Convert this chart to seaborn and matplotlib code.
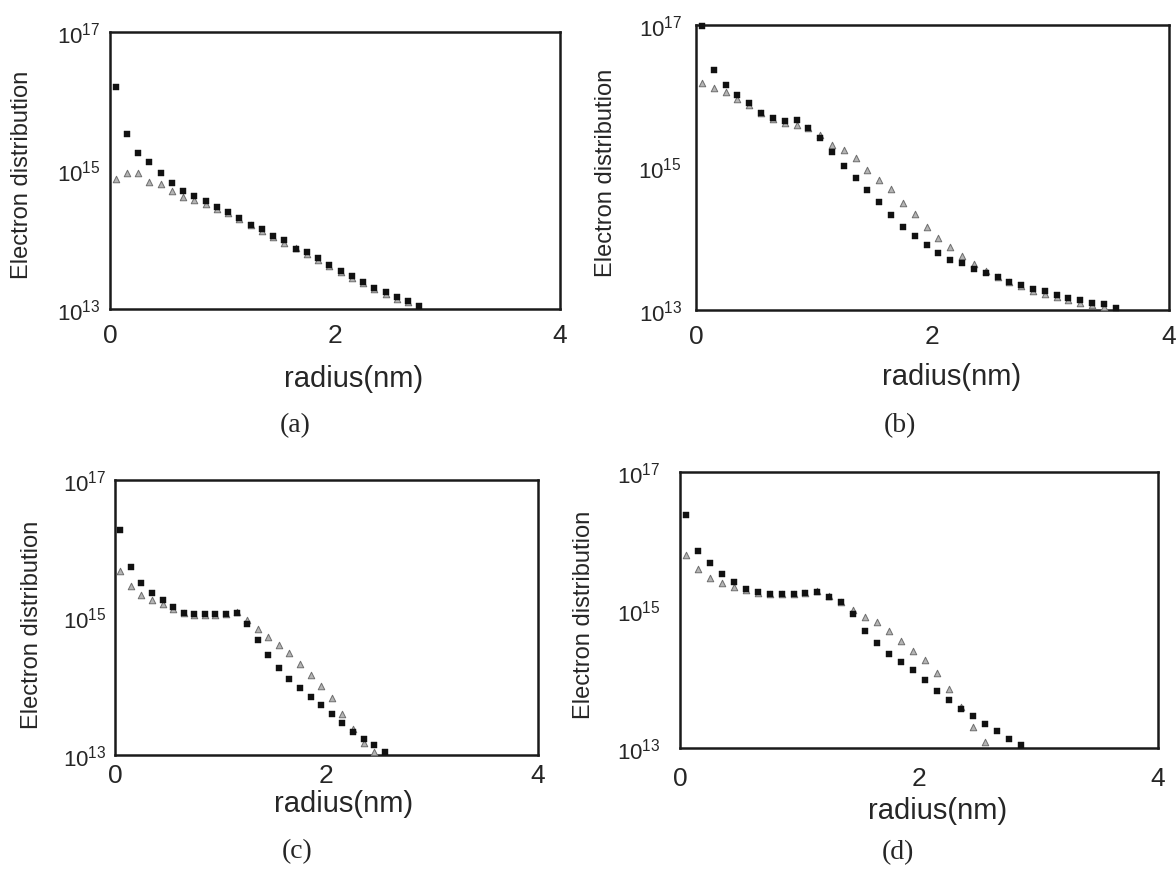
import numpy as np
import pandas as pd
import matplotlib
matplotlib.use('Agg')
import matplotlib.pyplot as plt
import matplotlib.ticker as mticker
import seaborn as sns

sns.set_style('white')
plt.rcParams['font.family'] = ['Liberation Sans', 'DejaVu Sans']
plt.rcParams['mathtext.default'] = 'regular'

# radius grid (nm) shared by all panels, series use the first n values
radius = [0.05, 0.15, 0.25, 0.35, 0.45, 0.55, 0.65, 0.75, 0.85, 0.95,
          1.05, 1.15, 1.25, 1.35, 1.45, 1.55, 1.65, 1.75, 1.85, 1.95,
          2.05, 2.15, 2.25, 2.35, 2.45, 2.55, 2.65, 2.75, 2.85, 2.95,
          3.05, 3.15, 3.25, 3.35, 3.45, 3.55]

# log10 of electron distribution
a_sq = [16.21, 15.53, 15.25, 15.12, 14.96, 14.82, 14.70, 14.63, 14.56, 14.47,
        14.40, 14.32, 14.22, 14.16, 14.06, 14.00, 13.87, 13.82, 13.73, 13.64,
        13.55, 13.47, 13.39, 13.30, 13.25, 13.17, 13.11, 13.05]
a_tri = [14.88, 14.96, 14.96, 14.84, 14.80, 14.70, 14.62, 14.58, 14.52, 14.45,
         14.38, 14.30, 14.21, 14.13, 14.04, 13.96, 13.88, 13.80, 13.71, 13.62,
         13.53, 13.45, 13.37, 13.29, 13.22, 13.15, 13.10]

b_sq = [16.98, 16.37, 16.16, 16.02, 15.91, 15.77, 15.69, 15.65, 15.66, 15.56,
        15.42, 15.22, 15.02, 14.85, 14.68, 14.52, 14.33, 14.16, 14.04, 13.91,
        13.80, 13.70, 13.66, 13.58, 13.52, 13.47, 13.40, 13.35, 13.30, 13.27,
        13.21, 13.17, 13.14, 13.10, 13.08, 13.03]
b_tri = [16.18, 16.11, 16.06, 15.96, 15.88, 15.76, 15.68, 15.62, 15.59, 15.55,
         15.45, 15.32, 15.25, 15.13, 14.97, 14.82, 14.70, 14.50, 14.35, 14.16,
         14.01, 13.88, 13.76, 13.64, 13.55, 13.47, 13.39, 13.33, 13.27, 13.22,
         13.18, 13.14, 13.10, 13.07, 13.04]

c_sq = [16.28, 15.73, 15.50, 15.36, 15.25, 15.15, 15.07, 15.05, 15.05, 15.05,
        15.05, 15.06, 14.91, 14.67, 14.45, 14.27, 14.11, 13.97, 13.85, 13.73,
        13.60, 13.46, 13.34, 13.24, 13.14, 13.04]
c_tri = [15.68, 15.46, 15.33, 15.25, 15.20, 15.12, 15.06, 15.04, 15.04, 15.04,
         15.05, 15.08, 14.97, 14.83, 14.71, 14.60, 14.49, 14.32, 14.17, 14.01,
         13.83, 13.60, 13.38, 13.18, 13.05]

d_sq = [16.37, 15.86, 15.68, 15.52, 15.40, 15.31, 15.26, 15.23, 15.23, 15.23,
        15.25, 15.26, 15.19, 15.11, 14.94, 14.70, 14.52, 14.36, 14.25, 14.13,
        13.99, 13.83, 13.70, 13.57, 13.47, 13.35, 13.24, 13.13, 13.04]
d_tri = [15.80, 15.60, 15.47, 15.39, 15.34, 15.29, 15.25, 15.23, 15.23, 15.23,
         15.25, 15.27, 15.20, 15.12, 15.00, 14.90, 14.82, 14.70, 14.55, 14.41,
         14.28, 14.08, 13.86, 13.60, 13.31, 13.08]

panel_names = ['(a)', '(b)', '(c)', '(d)']

W, H = 1176, 879
fig = plt.figure(figsize=(W / 100, H / 100), dpi=100)

# pixel boxes of the axes: left, top, right, bottom
boxes = [(110, 33, 560, 310), (696, 26, 1169, 311),
         (115, 481, 538, 756), (680, 473, 1158, 749)]
series = [(a_sq, a_tri), (b_sq, b_tri), (c_sq, c_tri), (d_sq, d_tri)]
xpads = [10, 10, 6, 13]
ypads = [7, 10, 6, 14]
ylab_xy = [(-0.171, 0.487), (-0.167, 0.484), (-0.170, 0.476), (-0.178, 0.486)]
xlab_xy = [(0.542, -0.199), (0.541, -0.182), (0.541, -0.124), (0.538, -0.174)]
tag_xy = [(295, 426), (900, 426), (297, 852), (898, 853)]

for i, (box, (sq, tri)) in enumerate(zip(boxes, series)):
    l, t, r, b = box
    ax = fig.add_axes([l / W, 1 - b / H, (r - l) / W, (b - t) / H])

    # the first square of (b) sits on the 1e17 edge, so it starts one step earlier
    sq_r = radius[:len(sq)]
    tri_r = radius[:len(tri)]
    df_tri = pd.DataFrame({'radius': tri_r, 'n': np.power(10.0, tri)})
    df_sq = pd.DataFrame({'radius': sq_r, 'n': np.power(10.0, sq)})

    sns.scatterplot(data=df_tri, x='radius', y='n', ax=ax, marker='^', s=22,
                    color='#b4b4b4', edgecolor='#6e6e6e', linewidth=0.7,
                    zorder=3, clip_on=False)
    sns.scatterplot(data=df_sq, x='radius', y='n', ax=ax, marker='s', s=18,
                    color='#111111', edgecolor='#111111', linewidth=0.3,
                    zorder=4, clip_on=False)

    ax.set_yscale('log')
    ax.set_xlim(0, 4)
    ax.set_ylim(1e13, 1e17)
    ax.set_xticks([0, 2, 4])
    ax.set_yticks([1e13, 1e15, 1e17])
    ax.yaxis.set_minor_locator(mticker.NullLocator())
    ax.tick_params(axis='x', length=0, pad=xpads[i], labelsize=19)
    ax.tick_params(axis='y', length=0, pad=ypads[i], labelsize=16)
    for sp in ax.spines.values():
        sp.set_visible(True)
        sp.set_color('#1a1a1a')
        sp.set_linewidth(1.8)

    ax.set_ylabel('Electron distribution', fontsize=17)
    ax.set_xlabel('radius(nm)', fontsize=21, va='top')
    ax.yaxis.set_label_coords(*ylab_xy[i])
    ax.xaxis.set_label_coords(*xlab_xy[i])

    tx, ty = tag_xy[i]
    fig.text(tx / W, 1 - ty / H, panel_names[i], ha='center', va='center',
             fontsize=20, family=['Liberation Serif', 'DejaVu Serif'])

fig.savefig('out.png', dpi=100, facecolor='white')
